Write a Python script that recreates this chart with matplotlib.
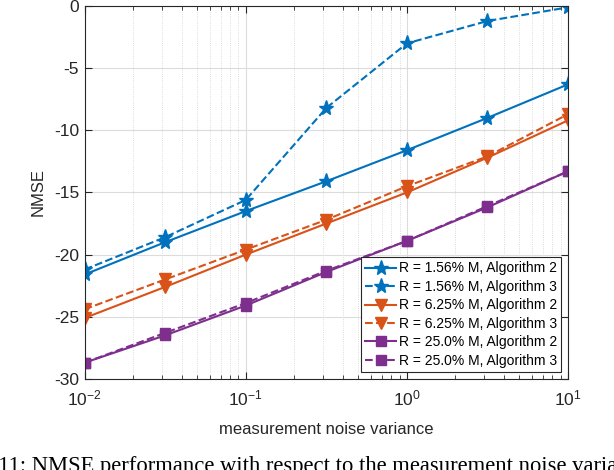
import matplotlib
matplotlib.use("Agg")
import matplotlib.pyplot as plt
import numpy as np
from matplotlib.ticker import LogLocator, NullFormatter

# noise variance values (log-spaced, half decades)
noise_var = [0.01, 0.0316, 0.1, 0.316, 1.0, 3.16, 10.0]

# NMSE
r156_alg2 = [-21.6, -19.0, -16.5, -14.1, -11.6, -9.0, -6.3]
r156_alg3 = [-21.2, -18.6, -15.6, -8.2, -3.0, -1.2, -0.1]
r625_alg2 = [-25.1, -22.6, -20.0, -17.5, -15.0, -12.2, -9.2]
r625_alg3 = [-24.4, -22.0, -19.6, -17.2, -14.5, -12.1, -8.7]
r25_alg2 = [-28.7, -26.5, -24.1, -21.4, -18.9, -16.2, -13.3]
r25_alg3 = [-28.7, -26.3, -23.9, -21.3, -18.9, -16.1, -13.3]

labels = ["R = 1.56% M, Algorithm 2", "R = 1.56% M, Algorithm 3",
          "R = 6.25% M, Algorithm 2", "R = 6.25% M, Algorithm 3",
          "R = 25.0% M, Algorithm 2", "R = 25.0% M, Algorithm 3"]

blue = "#0072BD"
orange = "#D95319"
purple = "#7E2F8E"

plt.rcParams['font.family'] = ['Liberation Sans', 'DejaVu Sans']
plt.rcParams['mathtext.fontset'] = 'custom'
plt.rcParams['mathtext.rm'] = 'Liberation Sans'

fig = plt.figure(figsize=(6.14, 4.70), dpi=100)
ax = fig.add_axes([0.138, 0.194, 0.787, 0.793])

ax.plot(noise_var, r156_alg2, '-', color=blue, marker='*', ms=11, lw=1.5, label=labels[0])
ax.plot(noise_var, r156_alg3, '--', color=blue, marker='*', ms=11, lw=1.5, label=labels[1])
ax.plot(noise_var, r625_alg2, '-', color=orange, marker='v', ms=9, lw=1.5, label=labels[2])
ax.plot(noise_var, r625_alg3, '--', color=orange, marker='v', ms=9, lw=1.5, label=labels[3])
ax.plot(noise_var, r25_alg2, '-', color=purple, marker='s', ms=6.5, lw=1.5, label=labels[4])
ax.plot(noise_var, r25_alg3, '--', color=purple, marker='s', ms=6.5, lw=1.5, label=labels[5])

ax.set_xscale('log')
ax.set_xlim(0.01, 10)
ax.set_ylim(-30, 0)
ax.set_xticks([0.01, 0.1, 1, 10])
ax.set_xticklabels([r'$\mathregular{10^{-2}}$', r'$\mathregular{10^{-1}}$',
                    r'$\mathregular{10^{0}}$', r'$\mathregular{10^{1}}$'])
ax.set_yticks([-30, -25, -20, -15, -10, -5, 0])
ax.set_yticklabels(['-30', '-25', '-20', '-15', '-10', '-5', '0'])
ax.xaxis.set_minor_locator(LogLocator(base=10, subs=np.arange(2, 10)))
ax.xaxis.set_minor_formatter(NullFormatter())

ax.grid(True, which='major', color='#dcdcdc', lw=0.8)
ax.grid(True, which='minor', axis='x', color='#d0d0d0', lw=0.6, ls=':')
ax.set_axisbelow(True)

ax.tick_params(which='both', direction='in', top=True, right=True, colors='#262626',
               labelsize=12.5)
ax.tick_params(which='major', length=5)
ax.tick_params(which='minor', length=3)
ax.tick_params(axis='x', which='major', pad=7)
ax.tick_params(axis='y', which='major', pad=4)
for s in ax.spines.values():
    s.set_color('#262626')
    s.set_linewidth(0.8)

ax.set_xlabel("measurement noise variance", fontsize=12, color='#262626', labelpad=10)
ax.set_ylabel("NMSE", fontsize=12, color='#262626', labelpad=6)

leg = ax.legend(loc='lower right', fontsize=10, handlelength=2.2, handletextpad=0.2,
                borderpad=0.3, labelspacing=0.32, borderaxespad=0.5, fancybox=False,
                framealpha=1)
leg.get_frame().set_edgecolor('#262626')
leg.get_frame().set_linewidth(0.8)

# caption of the paper figure, cropped at the image edges like the reference
fig.text(-0.070, -0.004, "Fig. 11: NMSE performance with respect to the measurement noise variance.",
         family='Liberation Serif', fontsize=16.3, ha='left', va='baseline')

fig.savefig("out.png", dpi=100)
